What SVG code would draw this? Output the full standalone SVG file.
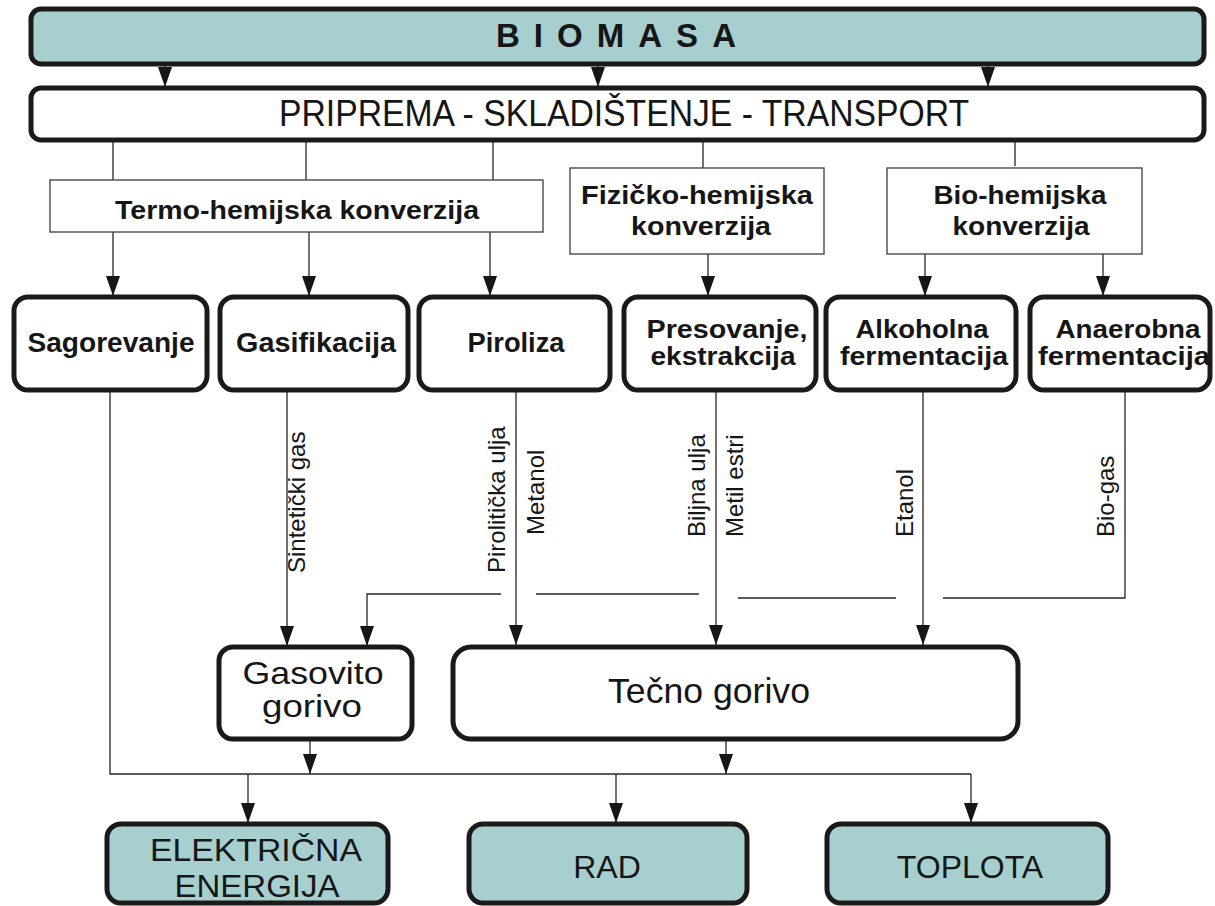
<svg xmlns="http://www.w3.org/2000/svg" width="1215" height="906" viewBox="0 0 1215 906">
<style>
  .thick { fill: #ffffff; stroke: #1c1a18; stroke-width: 5; }
  .teal { fill: #a8cfd0; stroke: #1c1a18; stroke-width: 5; }
  .thin { fill: #ffffff; stroke: #4a4a4a; stroke-width: 1.4; }
  .ln { fill: none; stroke: #262626; stroke-width: 1.3; }
  .arr { marker-end: url(#ah); }
  text { font-family: "Liberation Sans", Arial, sans-serif; fill: #161616; }
  .b { font-weight: bold; }
  .lbl { font-size: 24px; }
</style>
<defs>
  <marker id="ah" markerUnits="userSpaceOnUse" markerWidth="20" markerHeight="14" viewBox="0 0 20 14" refX="20" refY="7" orient="auto">
    <path d="M0,0 L20,7 L0,14 z" fill="#161616"/>
  </marker>
</defs>

<g id="connectors">
  <line class="ln arr" x1="165" y1="66" x2="165" y2="87"/>
  <line class="ln arr" x1="598" y1="66" x2="598" y2="87"/>
  <line class="ln arr" x1="988" y1="66" x2="988" y2="87"/>
  <line class="ln" x1="113" y1="142" x2="113" y2="180"/>
  <line class="ln" x1="306" y1="142" x2="306" y2="180"/>
  <line class="ln" x1="493" y1="142" x2="493" y2="180"/>
  <line class="ln" x1="703" y1="142" x2="703" y2="168"/>
  <line class="ln" x1="1015" y1="142" x2="1015" y2="166"/>
  <line class="ln arr" x1="113" y1="232" x2="113" y2="296"/>
  <line class="ln arr" x1="309" y1="232" x2="309" y2="296"/>
  <line class="ln arr" x1="490" y1="232" x2="490" y2="296"/>
  <line class="ln arr" x1="708" y1="254" x2="708" y2="296"/>
  <line class="ln arr" x1="925" y1="254" x2="925" y2="296"/>
  <line class="ln arr" x1="1103" y1="254" x2="1103" y2="296"/>
  <line class="ln arr" x1="287" y1="391" x2="287" y2="646"/>
  <line class="ln arr" x1="516" y1="391" x2="516" y2="645"/>
  <line class="ln arr" x1="716" y1="391" x2="716" y2="645"/>
  <line class="ln arr" x1="923" y1="391" x2="923" y2="645"/>
  <polyline class="ln arr" points="501,594 367,594 367,646"/>
  <line class="ln" x1="536" y1="594" x2="699" y2="594"/>
  <line class="ln" x1="738" y1="598" x2="896" y2="598"/>
  <polyline class="ln" points="943,598 1125,598 1125,391"/>
  <polyline class="ln" points="110,391 110,774 971,774"/>
  <line class="ln arr" x1="310" y1="740" x2="310" y2="774"/>
  <line class="ln arr" x1="726" y1="740" x2="726" y2="774"/>
  <line class="ln arr" x1="248" y1="774" x2="248" y2="823"/>
  <line class="ln arr" x1="616" y1="774" x2="616" y2="823"/>
  <line class="ln arr" x1="971" y1="774" x2="971" y2="823"/>
</g>

<g id="labels">
  <text class="lbl" transform="translate(305,573) rotate(-90)">Sintetički gas</text>
  <text class="lbl" transform="translate(505,573) rotate(-90)">Pirolitička ulja</text>
  <text class="lbl" transform="translate(544,535) rotate(-90)">Metanol</text>
  <text class="lbl" transform="translate(705,537) rotate(-90)">Biljna ulja</text>
  <text class="lbl" transform="translate(743,537) rotate(-90)">Metil estri</text>
  <text class="lbl" transform="translate(913,537) rotate(-90)">Etanol</text>
  <text class="lbl" transform="translate(1114,537) rotate(-90)">Bio-gas</text>
</g>

<g id="biomasa">
  <rect class="teal" x="31" y="9" width="1173" height="55" rx="10"/>
  <text class="b" x="616" y="47" font-size="33" text-anchor="middle" textLength="240" lengthAdjust="spacing">BIOMASA</text>
</g>
<g id="priprema">
  <rect class="thick" x="31" y="88" width="1173" height="52" rx="10"/>
  <text x="624" y="126" font-size="36" text-anchor="middle" textLength="690" lengthAdjust="spacingAndGlyphs">PRIPREMA - SKLADIŠTENJE - TRANSPORT</text>
</g>
<g id="termo">
  <rect class="thin" x="50" y="180" width="493" height="52"/>
  <text class="b" x="297" y="219" font-size="25" text-anchor="middle" textLength="364" lengthAdjust="spacingAndGlyphs">Termo-hemijska konverzija</text>
</g>
<g id="fizicko">
  <rect class="thin" x="570" y="168" width="254" height="86"/>
  <text class="b" x="697" y="204" font-size="25" text-anchor="middle" textLength="232" lengthAdjust="spacingAndGlyphs">Fizičko-hemijska</text>
  <text class="b" x="701" y="235" font-size="25" text-anchor="middle" textLength="140" lengthAdjust="spacingAndGlyphs">konverzija</text>
</g>
<g id="bio">
  <rect class="thin" x="887" y="168" width="255" height="86"/>
  <text class="b" x="1020" y="204" font-size="25" text-anchor="middle" textLength="173" lengthAdjust="spacingAndGlyphs">Bio-hemijska</text>
  <text class="b" x="1021" y="235" font-size="25" text-anchor="middle" textLength="137" lengthAdjust="spacingAndGlyphs">konverzija</text>
</g>
<g id="sagorevanje">
  <rect class="thick" x="14" y="297" width="193" height="93" rx="14"/>
  <text class="b" x="111" y="352" font-size="27" text-anchor="middle" textLength="167" lengthAdjust="spacingAndGlyphs">Sagorevanje</text>
</g>
<g id="gasifikacija">
  <rect class="thick" x="220" y="297" width="188" height="93" rx="14"/>
  <text class="b" x="316" y="352" font-size="27" text-anchor="middle" textLength="160" lengthAdjust="spacingAndGlyphs">Gasifikacija</text>
</g>
<g id="piroliza">
  <rect class="thick" x="419" y="297" width="191" height="93" rx="14"/>
  <text class="b" x="516" y="352" font-size="27" text-anchor="middle" textLength="97" lengthAdjust="spacingAndGlyphs">Piroliza</text>
</g>
<g id="presovanje">
  <rect class="thick" x="624" y="297" width="192" height="93" rx="14"/>
  <text class="b" x="727" y="338" font-size="25" text-anchor="middle" textLength="161" lengthAdjust="spacingAndGlyphs">Presovanje,</text>
  <text class="b" x="723" y="365" font-size="25" text-anchor="middle" textLength="145" lengthAdjust="spacingAndGlyphs">ekstrakcija</text>
</g>
<g id="alkoholna">
  <rect class="thick" x="826" y="297" width="190" height="93" rx="14"/>
  <text class="b" x="922" y="338" font-size="25" text-anchor="middle" textLength="133" lengthAdjust="spacingAndGlyphs">Alkoholna</text>
  <text class="b" x="924" y="365" font-size="25" text-anchor="middle" textLength="168" lengthAdjust="spacingAndGlyphs">fermentacija</text>
</g>
<g id="anaerobna">
  <rect class="thick" x="1030" y="297" width="180" height="93" rx="14"/>
  <text class="b" x="1128" y="338" font-size="25" text-anchor="middle" textLength="145" lengthAdjust="spacingAndGlyphs">Anaerobna</text>
  <text class="b" x="1124" y="365" font-size="25" text-anchor="middle" textLength="172" lengthAdjust="spacingAndGlyphs">fermentacija</text>
</g>
<g id="gasovito">
  <rect class="thick" x="219" y="647" width="193" height="92" rx="14"/>
  <text x="313" y="684" font-size="32" text-anchor="middle" textLength="141" lengthAdjust="spacingAndGlyphs">Gasovito</text>
  <text x="312" y="717" font-size="32" text-anchor="middle" textLength="100" lengthAdjust="spacingAndGlyphs">gorivo</text>
</g>
<g id="tecno">
  <rect class="thick" x="453" y="647" width="565" height="92" rx="18"/>
  <text x="709" y="703" font-size="35" text-anchor="middle" textLength="202" lengthAdjust="spacingAndGlyphs">Tečno gorivo</text>
</g>
<g id="elektricna">
  <rect class="teal" x="107" y="824" width="281" height="79" rx="14"/>
  <text x="256" y="861" font-size="31" text-anchor="middle" textLength="212" lengthAdjust="spacingAndGlyphs">ELEKTRIČNA</text>
  <text x="257" y="897" font-size="31" text-anchor="middle" textLength="165" lengthAdjust="spacingAndGlyphs">ENERGIJA</text>
</g>
<g id="rad">
  <rect class="teal" x="469" y="824" width="278" height="79" rx="14"/>
  <text x="607" y="878" font-size="32" text-anchor="middle">RAD</text>
</g>
<g id="toplota">
  <rect class="teal" x="827" y="824" width="281" height="79" rx="14"/>
  <text x="970" y="878" font-size="32" text-anchor="middle">TOPLOTA</text>
</g>
</svg>
